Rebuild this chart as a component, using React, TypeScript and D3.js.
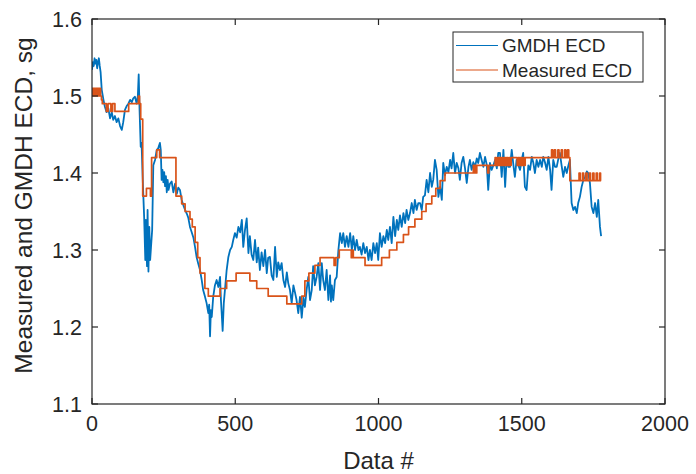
import React from "react";
import * as d3 from "d3";

// GMDH model output: [data #, ECD in sg]
const gmdhEcd: [number, number][] = [
  [0,1.534],[3,1.544],[6,1.539],[9,1.549],[12,1.542],[15,1.547],[18,1.536],[21,1.544],[24,1.549],[27,1.539],
  [30,1.531],[34,1.508],[40,1.495],[45,1.486],[51,1.479],[57,1.484],[63,1.471],[69,1.479],[74,1.469],[80,1.474],
  [86,1.466],[92,1.471],[98,1.461],[104,1.456],[109,1.466],[115,1.482],[121,1.487],[127,1.490],[133,1.495],[139,1.492],
  [144,1.497],[150,1.499],[156,1.490],[160,1.500],[163,1.528],[166,1.482],[170,1.434],[173,1.439],[178,1.382],[182,1.343],
  [186,1.287],[188,1.339],[192,1.279],[194,1.352],[197,1.272],[200,1.330],[203,1.287],[206,1.304],[210,1.326],[214,1.410],
  [220,1.417],[226,1.430],[231,1.432],[237,1.439],[240,1.430],[243,1.391],[246,1.404],[249,1.388],[252,1.401],[255,1.383],
  [258,1.396],[261,1.375],[264,1.391],[267,1.378],[272,1.386],[278,1.389],[284,1.375],[290,1.386],[296,1.373],[301,1.381],
  [307,1.378],[313,1.365],[319,1.358],[325,1.352],[331,1.347],[336,1.342],[342,1.330],[348,1.323],[354,1.316],[360,1.303],
  [365,1.291],[371,1.282],[377,1.274],[383,1.261],[388,1.248],[394,1.240],[400,1.231],[406,1.218],[409,1.229],[412,1.188],
  [415,1.222],[418,1.213],[423,1.239],[429,1.254],[435,1.261],[441,1.252],[447,1.265],[450,1.235],[453,1.216],[456,1.195],
  [460,1.231],[464,1.248],[470,1.274],[476,1.291],[482,1.300],[488,1.304],[493,1.313],[499,1.322],[505,1.316],[511,1.330],
  [517,1.323],[523,1.339],[528,1.304],[534,1.326],[540,1.341],[546,1.296],[551,1.318],[557,1.294],[563,1.287],[569,1.313],
  [575,1.284],[580,1.303],[586,1.274],[592,1.297],[598,1.279],[604,1.300],[610,1.270],[615,1.290],[621,1.291],[627,1.267],
  [633,1.261],[639,1.304],[645,1.265],[650,1.284],[656,1.274],[662,1.283],[668,1.261],[674,1.252],[680,1.271],[685,1.257],
  [691,1.248],[697,1.231],[703,1.254],[709,1.244],[714,1.235],[720,1.218],[726,1.239],[732,1.212],[738,1.238],[743,1.226],
  [749,1.248],[755,1.265],[761,1.235],[767,1.248],[772,1.279],[778,1.254],[784,1.265],[790,1.283],[796,1.248],[802,1.283],
  [807,1.261],[813,1.248],[819,1.274],[825,1.235],[831,1.267],[834,1.233],[837,1.254],[842,1.235],[848,1.261],[854,1.265],
  [860,1.300],[866,1.322],[872,1.309],[877,1.322],[883,1.304],[889,1.318],[895,1.304],[901,1.322],[907,1.300],[912,1.318],
  [918,1.300],[924,1.313],[930,1.300],[935,1.304],[941,1.294],[947,1.309],[953,1.296],[959,1.304],[965,1.287],[970,1.300],
  [976,1.287],[982,1.309],[988,1.296],[994,1.309],[999,1.287],[1005,1.322],[1011,1.304],[1017,1.318],[1023,1.309],[1029,1.326],
  [1034,1.313],[1040,1.330],[1046,1.309],[1052,1.343],[1058,1.318],[1064,1.339],[1069,1.326],[1075,1.345],[1081,1.330],[1087,1.348],
  [1093,1.335],[1098,1.352],[1104,1.339],[1110,1.348],[1116,1.361],[1122,1.348],[1127,1.365],[1133,1.352],[1139,1.361],[1145,1.361],
  [1151,1.352],[1156,1.369],[1162,1.371],[1168,1.391],[1174,1.375],[1180,1.400],[1186,1.382],[1191,1.391],[1197,1.417],[1203,1.404],
  [1209,1.369],[1215,1.382],[1221,1.365],[1226,1.413],[1232,1.397],[1238,1.408],[1244,1.401],[1250,1.417],[1255,1.406],[1261,1.426],
  [1267,1.400],[1273,1.413],[1279,1.406],[1284,1.391],[1290,1.413],[1296,1.421],[1302,1.406],[1308,1.387],[1314,1.408],[1319,1.417],
  [1325,1.404],[1331,1.414],[1337,1.408],[1343,1.419],[1348,1.413],[1354,1.426],[1360,1.417],[1366,1.408],[1372,1.421],[1378,1.410],
  [1383,1.378],[1389,1.413],[1395,1.404],[1401,1.410],[1407,1.417],[1413,1.406],[1418,1.426],[1424,1.426],[1430,1.395],[1436,1.430],
  [1442,1.382],[1447,1.417],[1453,1.408],[1459,1.408],[1465,1.430],[1471,1.410],[1476,1.395],[1482,1.417],[1488,1.410],[1494,1.404],
  [1500,1.417],[1505,1.426],[1511,1.382],[1517,1.378],[1523,1.410],[1529,1.404],[1535,1.421],[1540,1.414],[1546,1.400],[1552,1.417],
  [1558,1.408],[1564,1.417],[1570,1.408],[1575,1.421],[1581,1.414],[1587,1.404],[1593,1.421],[1599,1.404],[1604,1.378],[1610,1.417],
  [1616,1.408],[1622,1.408],[1628,1.419],[1633,1.426],[1639,1.410],[1645,1.395],[1651,1.408],[1657,1.400],[1663,1.410],[1668,1.417],
  [1674,1.361],[1680,1.352],[1686,1.356],[1692,1.348],[1697,1.361],[1703,1.369],[1709,1.382],[1715,1.391],[1721,1.395],[1727,1.402],
  [1732,1.400],[1738,1.387],[1744,1.356],[1750,1.348],[1756,1.361],[1762,1.343],[1767,1.365],[1773,1.330],[1777,1.318],
];

// Measured ECD, held constant from each data # until the next entry
const measuredEcd: [number, number][] = [
  [0,1.51],[2,1.50],[4,1.51],[6,1.50],[8,1.51],[10,1.50],[12,1.51],[14,1.50],[16,1.51],[18,1.50],
  [20,1.51],[22,1.50],[24,1.51],[26,1.50],[28,1.51],[30,1.50],[33,1.495],[36,1.49],[50,1.48],[56,1.49],
  [66,1.48],[72,1.49],[80,1.48],[128,1.49],[162,1.50],[166,1.49],[170,1.47],[177,1.37],[190,1.38],[204,1.37],
  [208,1.42],[226,1.43],[236,1.42],[293,1.37],[313,1.36],[325,1.35],[342,1.34],[350,1.33],[360,1.31],[369,1.29],
  [377,1.27],[394,1.25],[406,1.24],[447,1.25],[470,1.26],[503,1.27],[551,1.26],[575,1.25],[615,1.24],[680,1.23],
  [732,1.24],[743,1.26],[757,1.27],[778,1.28],[796,1.29],[845,1.28],[851,1.29],[863,1.30],[905,1.29],[909,1.30],
  [912,1.29],[953,1.28],[1011,1.29],[1038,1.30],[1064,1.31],[1087,1.32],[1105,1.33],[1127,1.34],[1151,1.35],[1166,1.36],
  [1186,1.37],[1200,1.38],[1215,1.39],[1232,1.40],[1331,1.41],[1334,1.40],[1337,1.41],[1340,1.40],[1343,1.41],[1381,1.40],
  [1385,1.41],[1407,1.42],[1411,1.41],[1415,1.42],[1419,1.41],[1423,1.42],[1427,1.41],[1431,1.42],[1435,1.41],[1439,1.42],
  [1443,1.41],[1447,1.42],[1451,1.41],[1455,1.42],[1459,1.41],[1463,1.42],[1484,1.41],[1488,1.42],[1492,1.41],[1496,1.42],
  [1500,1.41],[1504,1.42],[1508,1.41],[1512,1.42],[1604,1.43],[1608,1.42],[1614,1.43],[1618,1.42],[1626,1.43],[1630,1.42],
  [1638,1.43],[1642,1.42],[1650,1.43],[1654,1.42],[1660,1.43],[1664,1.42],[1668,1.39],[1700,1.40],[1704,1.39],[1712,1.40],
  [1716,1.39],[1724,1.40],[1728,1.39],[1736,1.40],[1740,1.39],[1748,1.40],[1752,1.39],[1760,1.40],[1764,1.39],[1772,1.40],
  [1775,1.39],[1777,1.39],
];

const xTicks = [0, 500, 1000, 1500, 2000];
const yTicks = [1.1, 1.2, 1.3, 1.4, 1.5, 1.6];
const seriesNames = ["GMDH ECD", "Measured ECD"];
const seriesColors = ["#0072BD", "#D95319"];

const W = 696;
const H = 474;
const plot = { left: 92, right: 665, top: 19, bottom: 404 };
const tickLen = 6;
const axisColor = "#262626";
const font = "'Liberation Sans', Arial, Helvetica, sans-serif";

export default function App() {
  const x = d3.scaleLinear().domain([0, 2000]).range([plot.left, plot.right]);
  const y = d3.scaleLinear().domain([1.1, 1.6]).range([plot.bottom, plot.top]);

  const gmdhLine = d3
    .line<[number, number]>()
    .x((d) => x(d[0]))
    .y((d) => y(d[1]));
  const measuredLine = d3
    .line<[number, number]>()
    .x((d) => x(d[0]))
    .y((d) => y(d[1]))
    .curve(d3.curveStepAfter);

  const legend = { x: 453, y: 32, w: 190, h: 50 };

  return (
    <svg
      width={W}
      height={H}
      style={{ position: "absolute", left: 0, top: 0, background: "#fff" }}
      fontFamily={font}
    >
      <rect x={0} y={0} width={W} height={H} fill="#fff" />
      <defs>
        <clipPath id="plot-area">
          <rect x={plot.left} y={plot.top} width={plot.right - plot.left} height={plot.bottom - plot.top} />
        </clipPath>
      </defs>

      <g clipPath="url(#plot-area)" fill="none" strokeLinejoin="round">
        <path d={gmdhLine(gmdhEcd) ?? ""} stroke={seriesColors[0]} strokeWidth={1.8} />
        <path d={measuredLine(measuredEcd) ?? ""} stroke={seriesColors[1]} strokeWidth={1.7} />
      </g>

      {/* axes box with inward ticks on all four sides */}
      <g stroke={axisColor} strokeWidth={1.2} fill="none">
        <rect
          x={plot.left}
          y={plot.top}
          width={plot.right - plot.left}
          height={plot.bottom - plot.top}
        />
        {xTicks.map((t) => (
          <g key={`xt${t}`}>
            <line x1={x(t)} x2={x(t)} y1={plot.bottom} y2={plot.bottom - tickLen} />
            <line x1={x(t)} x2={x(t)} y1={plot.top} y2={plot.top + tickLen} />
          </g>
        ))}
        {yTicks.map((t) => (
          <g key={`yt${t}`}>
            <line x1={plot.left} x2={plot.left + tickLen} y1={y(t)} y2={y(t)} />
            <line x1={plot.right} x2={plot.right - tickLen} y1={y(t)} y2={y(t)} />
          </g>
        ))}
      </g>

      <g fill={axisColor} fontSize={21.5}>
        {xTicks.map((t) => (
          <text key={`xl${t}`} x={x(t)} y={431} textAnchor="middle">
            {d3.format("d")(t)}
          </text>
        ))}
        {yTicks.map((t) => (
          <text key={`yl${t}`} x={plot.left - 10} y={y(t)} dy="0.35em" textAnchor="end">
            {d3.format(".1f")(t)}
          </text>
        ))}
      </g>

      <text x={(plot.left + plot.right) / 2} y={469} textAnchor="middle" fontSize={24} fill={axisColor}>
        Data #
      </text>
      <text
        transform={`translate(32, ${(plot.top + plot.bottom) / 2 - 6}) rotate(-90)`}
        textAnchor="middle"
        fontSize={24.5}
        fill={axisColor}
      >
        Measured and GMDH ECD, sg
      </text>

      {/* legend */}
      <g>
        <rect
          x={legend.x}
          y={legend.y}
          width={legend.w}
          height={legend.h}
          fill="#fff"
          stroke={axisColor}
          strokeWidth={1}
        />
        {seriesNames.map((name, i) => {
          const ly = legend.y + 13.5 + i * 24.5;
          return (
            <g key={name}>
              <line x1={legend.x + 3} x2={legend.x + 45} y1={ly} y2={ly} stroke={seriesColors[i]} strokeWidth={1.2} />
              <text x={legend.x + 49} y={ly} dy="0.35em" fontSize={19} fill={axisColor}>
                {name}
              </text>
            </g>
          );
        })}
      </g>
    </svg>
  );
}
